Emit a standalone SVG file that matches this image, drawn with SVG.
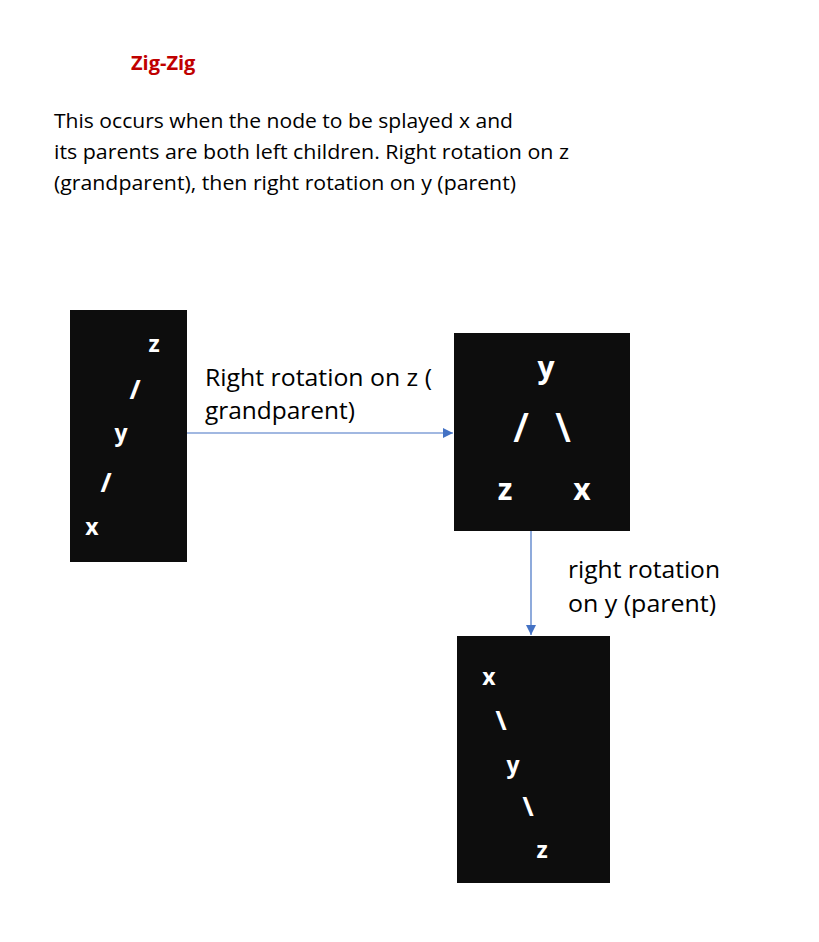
<svg xmlns="http://www.w3.org/2000/svg" width="819" height="942" viewBox="0 0 819 942">
<style>
.t{font-family:"Open Sans","Liberation Sans",sans-serif;fill:#000}
.body{font-size:20px}
.lbl{font-size:23px}
.box{fill:#0d0d0d}
.ch{font-family:"Open Sans","Liberation Sans",sans-serif;font-size:23px;font-weight:bold;fill:#fff;text-anchor:middle}
.sl{font-size:27px}
.big{font-size:30px}
.bsl{font-size:40px;font-weight:600}
.conn{stroke:#4472C4;stroke-width:1.2;fill:none}
</style>
<defs>
<marker id="ah" viewBox="0 0 10 10" refX="10" refY="5" markerWidth="10" markerHeight="10" markerUnits="userSpaceOnUse" orient="auto">
<path d="M0,0 L10,5 L0,10 z" fill="#4472C4"/>
</marker>
</defs>
<rect width="819" height="942" fill="#fff"/>
<text class="t" x="131" y="70" style="font-size:20px;font-weight:bold;fill:#C00000">Zig-Zig</text>
<text class="t body" x="54" y="128" textLength="459" lengthAdjust="spacingAndGlyphs">This occurs when the node to be splayed x and</text>
<text class="t body" x="54" y="159" textLength="515" lengthAdjust="spacingAndGlyphs">its parents are both left children. Right rotation on z</text>
<text class="t body" x="54" y="190" textLength="462" lengthAdjust="spacingAndGlyphs">(grandparent), then right rotation on y (parent)</text>

<g id="connectors">
<line class="conn" x1="187" y1="433" x2="453" y2="433" marker-end="url(#ah)"/>
<line class="conn" x1="531" y1="531" x2="531" y2="635" marker-end="url(#ah)"/>
<text class="t lbl" x="205" y="386" textLength="227" lengthAdjust="spacingAndGlyphs">Right rotation on z (</text>
<text class="t lbl" x="205" y="419" textLength="150" lengthAdjust="spacingAndGlyphs">grandparent)</text>
<text class="t lbl" x="568" y="578" textLength="152" lengthAdjust="spacingAndGlyphs">right rotation</text>
<text class="t lbl" x="568" y="612" textLength="148" lengthAdjust="spacingAndGlyphs">on y (parent)</text>
</g>

<g id="tree1">
<rect class="box" x="70" y="310" width="117" height="252"/>
<text class="ch" x="154" y="352">z</text>
<text class="ch sl" x="135" y="399">/</text>
<text class="ch" x="121" y="441">y</text>
<text class="ch sl" x="106" y="492">/</text>
<text class="ch" x="92" y="535">x</text>
</g>

<g id="tree2">
<rect class="box" x="454" y="333" width="176" height="198"/>
<text class="ch big" x="546" y="378">y</text>
<text class="ch bsl" x="521" y="442">/</text>
<text class="ch bsl" x="563" y="442">\</text>
<text class="ch big" x="505" y="500">z</text>
<text class="ch big" x="582" y="500">x</text>
</g>

<g id="tree3">
<rect class="box" x="457" y="636" width="153" height="247"/>
<text class="ch" x="489" y="685">x</text>
<text class="ch sl" x="501" y="730">\</text>
<text class="ch" x="513" y="773">y</text>
<text class="ch sl" x="528" y="816">\</text>
<text class="ch" x="542" y="858">z</text>
</g>
</svg>
